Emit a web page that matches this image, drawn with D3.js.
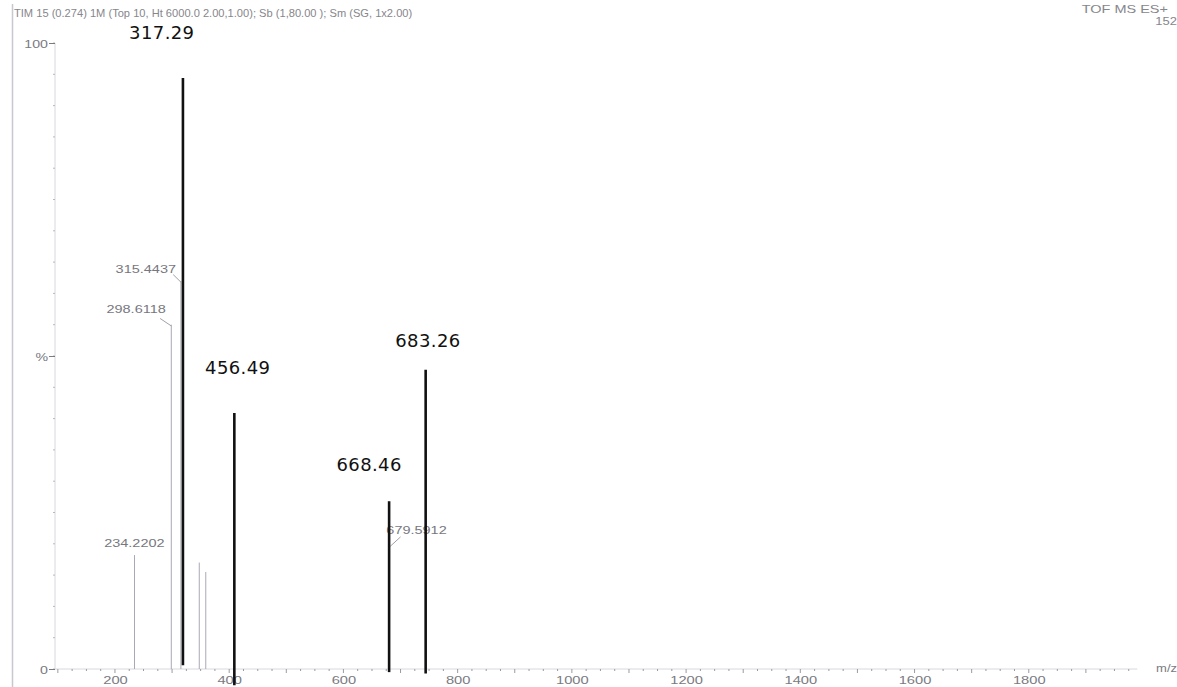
<!DOCTYPE html>
<html><head><meta charset="utf-8">
<script src="https://cdn.jsdelivr.net/npm/d3@7"></script>
<style>body{margin:0;background:#fff}svg{display:block}</style>
</head><body>
<svg id="c" width="1177" height="687"></svg>
<script>
// ---- data ----
const titleText = "TIM 15 (0.274) 1M (Top 10, Ht 6000.0 2.00,1.00); Sb (1,80.00 ); Sm (SG, 1x2.00)";
const instrumentText = "TOF MS ES+";
const scaleText = "152";
const xTickValues = [200, 400, 600, 800, 1000, 1200, 1400, 1600, 1800];
const yTickValues = [0, 50, 100];
const yTickLabels = ["0", "%", "100"];
const xUnit = "m/z";

// faint instrument peaks (m/z, %)
const peakMz = [234.22, 298.61, 315.44, 347.6, 359, 679.59];
const peakIntensity = [18.2, 55, 62, 17, 15.5, 19.6];
// faint annotated peaks
const annotText = ["234.2202", "298.6118", "315.4437", "679.5912"];
const annotLabelMz = [234, 237, 254, 728];
const annotLabelInt = [19.5, 56.8, 63.3, 21.5];
const annotLeaderFrom = [[null,null],[279, 56],[302, 63],[700, 21.1]];
const annotLeaderTo = [[null,null],[298.61, 54.8],[315.44, 61.8],[682, 19.6]];

// bold overlaid bars
const boldLabels = ["317.29", "456.49", "668.46", "683.26"];
const boldMz = [319, 409, 680, 744];
const boldTop = [94.4, 40.9, 26.8, 47.8];
const boldBase = [0.6, -2.6, -0.5, -0.7];
const boldLabelMz = [282, 415, 645, 748];
const boldLabelInt = [100.6, 47.1, 31.6, 51.4];

// ---- drawing ----
const svg = d3.select("#c");
const x = d3.scaleLinear().domain([95, 2000]).range([55, 1143]);
const y = d3.scaleLinear().domain([0, 100]).range([669, 43]);

const font = "Liberation Sans, Arial, sans-serif";
const axisCol = "#7a7a82";
const faintCol = "#77777e";

// stretched faint text helper
function wideText(g, tx, ty, str, size, sx, anchor, col) {
  return g.append("text")
    .attr("transform", `translate(${tx},${ty}) scale(${sx},1)`)
    .attr("text-anchor", anchor).text(str)
    .attr("font-family", font).attr("font-size", size).attr("fill", col);
}

// frame line at left
svg.append("line").attr("x1", 12.5).attr("x2", 12.5).attr("y1", 4).attr("y2", 687)
  .attr("stroke", "#c8c8d0").attr("stroke-width", 1.5);

// title texts
wideText(svg, 14, 17, titleText, 10.5, 1.06, "start", "#86868c");
wideText(svg, 1168, 13, instrumentText, 10, 1.45, "end", "#86868c");
wideText(svg, 1177, 25, scaleText, 10, 1.3, "end", "#86868c");

// x axis
const xAxisG = svg.append("g").attr("transform", `translate(0,${y(0)})`);
xAxisG.append("line").attr("x1", x(95)).attr("x2", x(1990)).attr("stroke", "#d8d8e0").attr("stroke-width", 1);
const minor = d3.range(100, 2000, 25);
xAxisG.selectAll("line.mn").data(minor).join("line").attr("class", "mn")
  .attr("x1", d => x(d)).attr("x2", d => x(d)).attr("y1", 0)
  .attr("y2", d => d % 100 === 0 ? 4 : 2)
  .attr("stroke", "#9a9aa2").attr("stroke-width", 1);
const xAxis = d3.axisBottom(x).tickValues(xTickValues).tickSize(0).tickFormat(d3.format("d"));
const xa = xAxisG.append("g").call(xAxis);
xa.select(".domain").remove();
xa.selectAll(".tick text").remove();
xa.selectAll(".tick").each(function(d) {
  wideText(d3.select(this), 0, 15, d3.format("d")(d), 10.5, 1.4, "middle", axisCol);
});
wideText(svg, 1177, y(0) + 3, xUnit, 10, 1.3, "end", axisCol);

// y axis
const yAxisG = svg.append("g").attr("transform", `translate(${x(95)},0)`);
yAxisG.append("line").attr("y1", y(100)).attr("y2", y(0)).attr("stroke", "#d8d8e0");
yAxisG.selectAll("line.ym").data(d3.range(0, 101, 5)).join("line").attr("class", "ym")
  .attr("y1", d => y(d)).attr("y2", d => y(d)).attr("x1", 0).attr("x2", -2)
  .attr("stroke", "#b8b8c0");
const yAxis = d3.axisLeft(y).tickValues(yTickValues).tickSize(6);
const ya = yAxisG.append("g").call(yAxis);
ya.select(".domain").remove();
ya.selectAll("line").attr("stroke", axisCol);
ya.selectAll(".tick text").remove();
ya.selectAll(".tick").each(function(d, i) {
  wideText(d3.select(this), -7, 4, yTickLabels[i], 10.5, 1.35, "end", axisCol);
});

// faint peaks
svg.selectAll("line.pk").data(peakMz).join("line").attr("class", "pk")
  .attr("x1", d => x(d)).attr("x2", d => x(d))
  .attr("y1", y(0)).attr("y2", (d, i) => y(peakIntensity[i]))
  .attr("stroke", "#a9a9b4").attr("stroke-width", 1);

// faint annotations
annotText.forEach((t, i) => {
  wideText(svg, x(annotLabelMz[i]), y(annotLabelInt[i]), t, 10, 1.45, "middle", faintCol);
});
svg.selectAll("line.ld").data(annotText.map((d, i) => i).filter(i => annotLeaderFrom[i][0] !== null))
  .join("line").attr("class", "ld")
  .attr("x1", i => x(annotLeaderFrom[i][0])).attr("y1", i => y(annotLeaderFrom[i][1]))
  .attr("x2", i => x(annotLeaderTo[i][0])).attr("y2", i => y(annotLeaderTo[i][1]))
  .attr("stroke", "#a0a0a8").attr("stroke-width", 1);

// bold bars
svg.selectAll("line.bb").data(boldMz).join("line").attr("class", "bb")
  .attr("x1", d => x(d)).attr("x2", d => x(d))
  .attr("y1", (d, i) => y(boldBase[i])).attr("y2", (d, i) => y(boldTop[i]))
  .attr("stroke", "#111").attr("stroke-width", 2.6);

svg.selectAll("text.bl").data(boldLabels).join("text").attr("class", "bl")
  .attr("x", (d, i) => x(boldLabelMz[i])).attr("y", (d, i) => y(boldLabelInt[i]))
  .attr("text-anchor", "middle").text(d => d)
  .attr("font-family", "DejaVu Sans, Verdana, sans-serif").attr("font-size", 18)
  .attr("letter-spacing", 0.4).attr("fill", "#111");
</script>
</body></html>
